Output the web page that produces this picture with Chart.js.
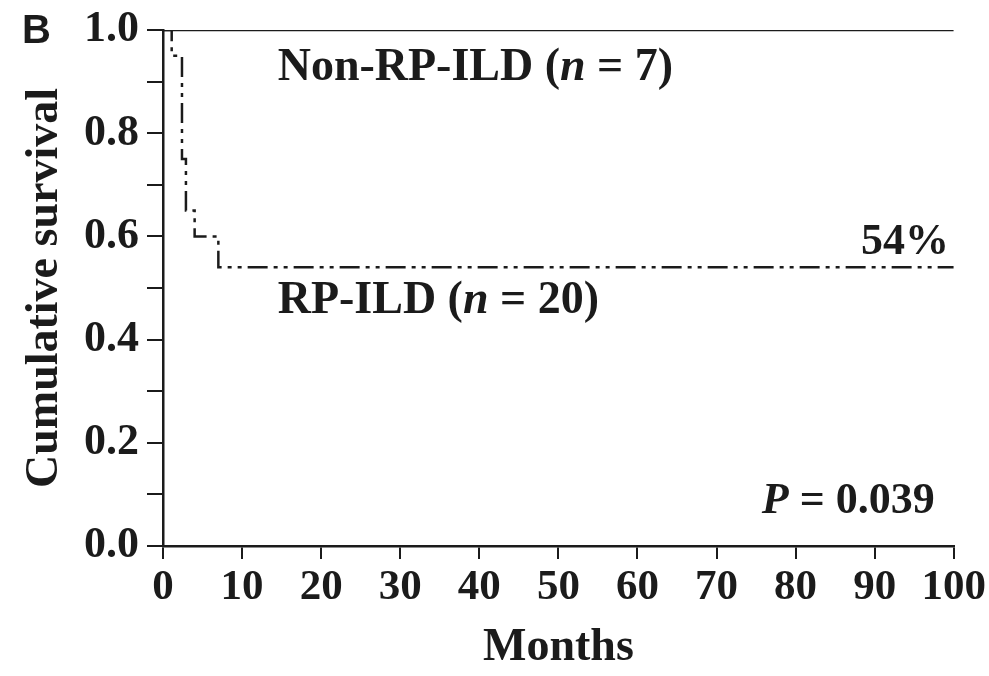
<!DOCTYPE html>
<html>
<head>
<meta charset="utf-8">
<script src="https://cdn.jsdelivr.net/npm/chart.js@4"></script>
<style>
  html, body { margin: 0; padding: 0; background: #fff; }
  #wrap { width: 989px; height: 676px; position: relative; }
</style>
</head>
<body>
<div id="wrap"><canvas id="km"></canvas></div>
<script>
// Kaplan-Meier data
const nonRpMonths = [0, 100];
const nonRpSurvival = [1, 1];
const rpMonths = [0, 1.1, 2.4, 2.9, 4.0, 7.0, 100];
const rpSurvival = [1, 0.95, 0.75, 0.65, 0.60, 0.54, 0.54];

const xTicks = [0, 10, 20, 30, 40, 50, 60, 70, 80, 90, 100];
const yTickLabels = ["0.0", "0.2", "0.4", "0.6", "0.8", "1.0"];

const ink = "#1b1b1b";
const serif = "'Liberation Serif', 'Times New Roman', serif";

function toPoints(xs, ys) {
    return xs.map((x, i) => ({ x: x, y: ys[i] }));
}

// text drawn inside the plot (labels, percent, p value)
const annotations = {
    id: "annotations",
    afterDraw(chart) {
        const ctx = chart.ctx;
        const xs = chart.scales.x;
        const ys = chart.scales.y;

        function rich(parts, x, y, align) {
            let total = 0;
            parts.forEach(p => {
                ctx.font = p.font;
                total += ctx.measureText(p.text).width;
            });
            let cx = align === "right" ? x - total : x;
            parts.forEach(p => {
                ctx.font = p.font;
                ctx.fillText(p.text, cx, y);
                cx += ctx.measureText(p.text).width;
            });
        }

        ctx.save();
        ctx.fillStyle = ink;
        ctx.textBaseline = "alphabetic";
        const b = "bold 46px " + serif;
        const bi = "italic bold 46px " + serif;
        const bs = "bold 44px " + serif;
        const bis = "italic bold 44px " + serif;

        rich([{ text: "Non-RP-ILD (", font: b }, { text: "n", font: bi }, { text: " = 7)", font: b }],
            xs.getPixelForValue(14.5), ys.getPixelForValue(0.903), "left");
        rich([{ text: "RP-ILD (", font: b }, { text: "n", font: bi }, { text: " = 20)", font: b }],
            xs.getPixelForValue(14.5), ys.getPixelForValue(0.452), "left");
        rich([{ text: "54%", font: bs }], xs.getPixelForValue(99.4), ys.getPixelForValue(0.565), "right");
        rich([{ text: "P", font: bis }, { text: " = 0.039", font: bs }],
            xs.getPixelForValue(97.6), ys.getPixelForValue(0.064), "right");

        ctx.font = "bold 40px 'Liberation Sans', Arial, sans-serif";
        ctx.fillText("B", 22, 43);
        ctx.restore();
    }
};

new Chart(document.getElementById("km"), {
    type: "line",
    data: {
        datasets: [
            {
                label: "Non-RP-ILD",
                data: toPoints(nonRpMonths, nonRpSurvival),
                borderColor: ink,
                borderWidth: 2.5,
                pointRadius: 0,
                stepped: "before",
                fill: false
            },
            {
                label: "RP-ILD",
                data: toPoints(rpMonths, rpSurvival),
                borderColor: ink,
                borderWidth: 2.5,
                borderDash: [20, 6, 4, 6, 4, 6],
                pointRadius: 0,
                stepped: "before",
                fill: false
            }
        ]
    },
    options: {
        responsive: true,
        maintainAspectRatio: false,
        animation: false,
        layout: { padding: { top: 28, right: 34, left: 0, bottom: 0 } },
        plugins: {
            legend: { display: false },
            tooltip: { enabled: false }
        },
        scales: {
            x: {
                type: "linear",
                min: 0,
                max: 100,
                afterBuildTicks: scale => {
                    scale.ticks = xTicks.map(v => ({ value: v }));
                },
                afterFit: scale => { scale.height = 130; },
                border: { display: true, color: ink, width: 2.5 },
                grid: { drawOnChartArea: false, drawTicks: true, tickLength: 13, tickColor: ink, lineWidth: 2 },
                ticks: {
                    color: ink,
                    padding: 3,
                    maxRotation: 0,
                    autoSkip: false,
                    font: { family: serif, size: 43, weight: "bold" }
                },
                title: {
                    display: true,
                    text: "Months",
                    color: ink,
                    padding: { top: 0, bottom: 0 },
                    font: { family: serif, size: 46, weight: "bold" }
                }
            },
            y: {
                type: "linear",
                min: 0,
                max: 1,
                afterFit: scale => { scale.width = 163; },
                border: { display: true, color: ink, width: 2.5 },
                grid: { drawOnChartArea: false, drawTicks: true, tickLength: 16, tickColor: ink, lineWidth: 2 },
                ticks: {
                    stepSize: 0.1,
                    color: ink,
                    padding: 8,
                    autoSkip: false,
                    font: { family: serif, size: 44, weight: "bold", lineHeight: 1 },
                    callback: value => {
                        const k = Math.round(value * 10);
                        return k % 2 === 0 ? yTickLabels[k / 2] : "";
                    }
                },
                title: {
                    display: true,
                    text: "Cumulative survival",
                    color: ink,
                    padding: { top: 18, bottom: 0 },
                    font: { family: serif, size: 46, weight: "bold" }
                }
            }
        }
    },
    plugins: [annotations]
});
</script>
</body>
</html>
